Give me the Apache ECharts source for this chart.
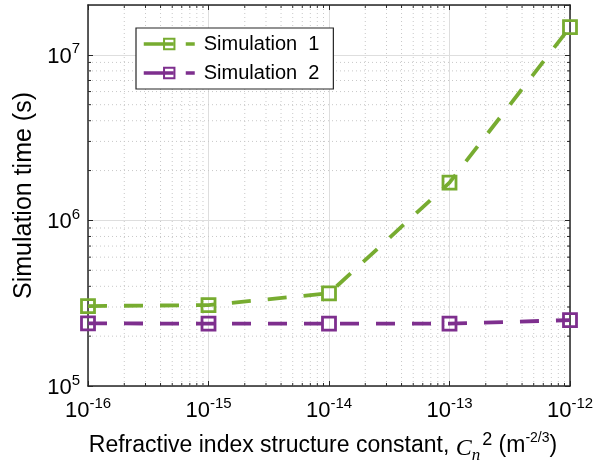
<!DOCTYPE html>
<html>
<head>
<meta charset="utf-8">
<script src="https://cdn.jsdelivr.net/npm/echarts@6/dist/echarts.min.js"></script>
<style>
  html, body { margin: 0; padding: 0; background: #ffffff; }
  #chart { width: 607px; height: 460px; }
</style>
</head>
<body>
<div id="chart"></div>
<script>
// Refractive index structure constant Cn^2 (m^-2/3)
const cn2Values = [1e-16, 1e-15, 1e-14, 1e-13, 1e-12];
// Simulation time (s)
const simulation1 = [3.04e5, 3.08e5, 3.63e5, 1.69e6, 1.47e7];
const simulation2 = [2.39e5, 2.38e5, 2.38e5, 2.38e5, 2.50e5];
const seriesNames = ['Simulation  1', 'Simulation  2'];

const X_MIN = 1e-16, X_MAX = 1e-12;
const Y_MIN = 1e5, Y_MAX = 2e7;

const GREEN = '#77AC30';
const PURPLE = '#7E2F8E';
const AXIS = '#262626';
const FONT = 'Arial, "Liberation Sans", sans-serif';

// minor positions (2..9 within each decade) for the log grid
function minorPositions(lo, hi) {
  const out = [];
  for (let e = Math.round(Math.log10(lo)); Math.pow(10, e) < hi; e++) {
    for (let m = 2; m <= 9; m++) {
      const v = m * Math.pow(10, e);
      if (v > lo * 1.0001 && v < hi * 0.9999) out.push(v);
    }
  }
  return out;
}
const xMinor = minorPositions(X_MIN, X_MAX);
const yMinor = minorPositions(Y_MIN, Y_MAX);

function powLabel(value) {
  const e = Math.round(Math.log10(value));
  if (Math.abs(value / Math.pow(10, e) - 1) > 1e-6) return '';
  return '{b|10}{s|' + e + '}';
}
const powRich = {
  b: { fontSize: 22, fontFamily: FONT, color: '#000', lineHeight: 26, verticalAlign: 'bottom' },
  s: { fontSize: 15, fontFamily: FONT, color: '#000', lineHeight: 26, verticalAlign: 'top' }
};

const chart = echarts.init(document.getElementById('chart'), null, { renderer: 'canvas' });

function lineSeries(name, data, color) {
  return {
    name: name,
    type: 'line',
    xAxisIndex: 0,
    yAxisIndex: 0,
    data: cn2Values.map((x, i) => [x, data[i]]),
    smooth: false,
    symbol: 'rect',
    symbolSize: 13,
    lineStyle: { color: color, width: 3.8, type: [19, 17] },
    itemStyle: { color: 'rgba(255,255,255,0)', borderColor: color, borderWidth: 2.8 },
    emphasis: { disabled: true },
    z: 5
  };
}

// dotted minor grid lines plus short inward minor ticks on all four edges
function minorSeries(values, vertical) {
  return {
    type: 'custom',
    xAxisIndex: 0,
    yAxisIndex: 0,
    silent: true,
    z: 1,
    data: values.map(v => vertical ? [v, Y_MIN] : [X_MIN, v]),
    renderItem: function (params, api) {
      const v = api.value(vertical ? 0 : 1);
      let a, b, t1, t2;
      if (vertical) {
        a = api.coord([v, Y_MIN]); b = api.coord([v, Y_MAX]);
        t1 = [[a[0], a[1]], [a[0], a[1] - 3]];
        t2 = [[b[0], b[1]], [b[0], b[1] + 3]];
      } else {
        a = api.coord([X_MIN, v]); b = api.coord([X_MAX, v]);
        t1 = [[a[0], a[1]], [a[0] + 3, a[1]]];
        t2 = [[b[0], b[1]], [b[0] - 3, b[1]]];
      }
      return {
        type: 'group',
        children: [
          { type: 'line', shape: { x1: a[0], y1: a[1], x2: b[0], y2: b[1] },
            style: { stroke: '#c8c8c8', lineWidth: 1, lineDash: [1, 3] } },
          { type: 'line', shape: { x1: t1[0][0], y1: t1[0][1], x2: t1[1][0], y2: t1[1][1] },
            style: { stroke: AXIS, lineWidth: 1 } },
          { type: 'line', shape: { x1: t2[0][0], y1: t2[0][1], x2: t2[1][0], y2: t2[1][1] },
            style: { stroke: AXIS, lineWidth: 1 } }
        ]
      };
    }
  };
}

const option = {
  backgroundColor: '#ffffff',
  animation: false,
  grid: { left: 88, right: 37, top: 5, bottom: 74, containLabel: false, outerBoundsMode: 'none' },
  legend: {
    data: seriesNames,
    orient: 'vertical',
    left: 136,
    top: 28,
    padding: [6, 14, 6, 6],
    itemGap: 9,
    itemWidth: 51,
    itemHeight: 13,
    backgroundColor: '#ffffff',
    borderColor: AXIS,
    borderWidth: 1.2,
    borderRadius: 0,
    lineStyle: { type: [30, 12], width: 3.5 },
    textStyle: { fontSize: 20, fontFamily: FONT, color: '#000', padding: [0, 0, 0, 4] }
  },
  xAxis: [
    {
      type: 'log', min: X_MIN, max: X_MAX, logBase: 10,
      name: 'Refractive index structure constant, {c|C}{n|n}{p|2} (m{q|-2/3})',
      nameLocation: 'middle',
      nameGap: 45,
      nameTextStyle: {
        fontSize: 23, fontFamily: FONT, color: '#000',
        padding: [0, 12, 0, 0],
        rich: {
          c: { fontSize: 24, fontFamily: '"Liberation Serif", "Times New Roman", serif', fontStyle: 'italic', color: '#000', lineHeight: 30, verticalAlign: 'bottom' },
          n: { fontSize: 17, fontFamily: '"Liberation Serif", "Times New Roman", serif', fontStyle: 'italic', color: '#000', lineHeight: 30, verticalAlign: 'bottom', padding: [0, 0, -3, 0] },
          p: { fontSize: 18, fontFamily: FONT, color: '#000', lineHeight: 30, verticalAlign: 'top', padding: [0, 0, 0, 2] },
          q: { fontSize: 14, fontFamily: FONT, color: '#000', lineHeight: 30, verticalAlign: 'top' }
        }
      },
      axisLine: { show: true, onZero: false, lineStyle: { color: AXIS, width: 1.5 } },
      axisTick: { show: true, inside: true, length: 5, lineStyle: { color: AXIS, width: 1 } },
      axisLabel: { formatter: powLabel, rich: powRich, margin: 10, showMinLabel: true, showMaxLabel: true },
      splitLine: { show: true, lineStyle: { color: '#dedede', width: 1 } },
      minorTick: { show: false }
    },
    {
      type: 'log', min: X_MIN, max: X_MAX, logBase: 10, position: 'top',
      axisLine: { show: true, onZero: false, lineStyle: { color: AXIS, width: 1.5 } },
      axisTick: { show: true, inside: true, length: 5, lineStyle: { color: AXIS, width: 1 } },
      axisLabel: { show: false },
      splitLine: { show: false }
    }
  ],
  yAxis: [
    {
      type: 'log', min: Y_MIN, max: Y_MAX, logBase: 10,
      name: 'Simulation time (s)',
      nameLocation: 'middle',
      nameRotate: 90,
      nameGap: 45,
      nameTextStyle: { fontSize: 25, fontFamily: FONT, color: '#000' },
      axisLine: { show: true, onZero: false, lineStyle: { color: AXIS, width: 1.5 } },
      axisTick: { show: true, inside: true, length: 5, lineStyle: { color: AXIS, width: 1 } },
      axisLabel: { formatter: powLabel, rich: powRich, margin: 8, showMinLabel: true, showMaxLabel: false },
      splitLine: { show: true, lineStyle: { color: '#dedede', width: 1 } }
    },
    {
      type: 'log', min: Y_MIN, max: Y_MAX, logBase: 10, position: 'right',
      axisLine: { show: true, onZero: false, lineStyle: { color: AXIS, width: 1.5 } },
      axisTick: { show: true, inside: true, length: 5, lineStyle: { color: AXIS, width: 1 } },
      axisLabel: { show: false },
      splitLine: { show: false }
    }
  ],
  series: [
    minorSeries(xMinor, true),
    minorSeries(yMinor, false),
    lineSeries(seriesNames[0], simulation1, GREEN),
    lineSeries(seriesNames[1], simulation2, PURPLE)
  ]
};

chart.setOption(option);
</script>
</body>
</html>
